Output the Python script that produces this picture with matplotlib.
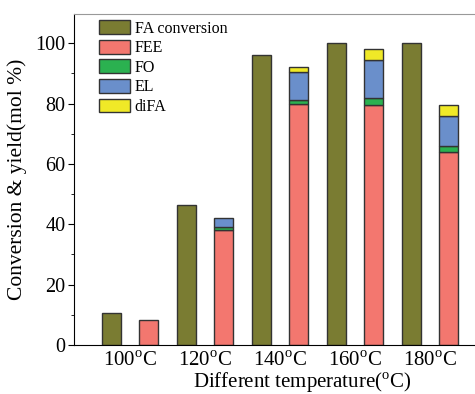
import numpy as np
import matplotlib.pyplot as plt
from matplotlib.patches import Patch

plt.rcParams['font.family'] = 'Liberation Serif'
plt.rcParams['mathtext.fontset'] = 'custom'
plt.rcParams['mathtext.rm'] = 'Liberation Serif'

temps = ["100", "120", "140", "160", "180"]
fa_conv = [10.6, 46.4, 96.0, 100.0, 100.0]
fee = [8.2, 38.2, 80.0, 79.6, 64.0]
fo = [0.0, 0.8, 1.3, 2.1, 2.1]
el = [0.0, 3.2, 9.2, 12.8, 9.7]
difa = [0.0, 0.0, 1.6, 3.7, 3.6]

c_fa = "#7a7c32"
c_fee = "#f3776f"
c_fo = "#2bb150"
c_el = "#6a8fcb"
c_difa = "#f0e927"
edge = "#333333"

fig = plt.figure(figsize=(4.75, 3.94), dpi=100)
# axes runs past the right edge of the figure, as in the cropped original
ax = fig.add_axes([74 / 475, 49 / 394, (530 - 74) / 475, (345 - 14) / 394])

x = np.arange(len(temps))
w = 0.253
kw = dict(width=w, edgecolor=edge, linewidth=1.0)
ax.bar(x - 0.25, fa_conv, color=c_fa, **kw)
bottom = np.zeros(len(temps))
for vals, col in [(fee, c_fee), (fo, c_fo), (el, c_el), (difa, c_difa)]:
    vals = np.array(vals)
    m = vals > 0
    ax.bar(x[m] + 0.25, vals[m], bottom=bottom[m], color=col, **kw)
    bottom += vals

ax.set_xlim(-0.747, 5.333)
ax.set_ylim(0, 109.7)
ax.set_xticks(x)
ax.set_xticklabels([t + r"$^{\mathrm{o}}$C" for t in temps], fontsize=15)
ax.tick_params(axis="x", length=0, pad=4.5)
ax.set_yticks([0, 20, 40, 60, 80, 100])
ax.set_yticks([10, 30, 50, 70, 90], minor=True)
ax.tick_params(axis="y", which="major", direction="out", length=4, labelsize=14.5, pad=2)
ax.tick_params(axis="y", which="minor", direction="out", length=2.5)
ax.spines["right"].set_visible(False)
ax.spines["top"].set_color("#999999")
ax.set_ylabel("Conversion & yield(mol %)", fontsize=15.5, labelpad=6)
ax.set_xlabel(r"Different temperature($^{\mathrm{o}}$C)", fontsize=15, labelpad=0)

handles = [Patch(facecolor=c, edgecolor=edge, linewidth=1.0)
           for c in [c_fa, c_fee, c_fo, c_el, c_difa]]
labels = ["FA conversion", "FEE", "FO", "EL", "diFA"]
ax.legend(handles, labels, loc="upper left", bbox_to_anchor=(0.033, 1.01),
          frameon=False, fontsize=11.5, handlelength=1.95, handleheight=0.95,
          handletextpad=0.3, labelspacing=0.2, borderaxespad=0.2)

fig.savefig("out.png", dpi=100)
